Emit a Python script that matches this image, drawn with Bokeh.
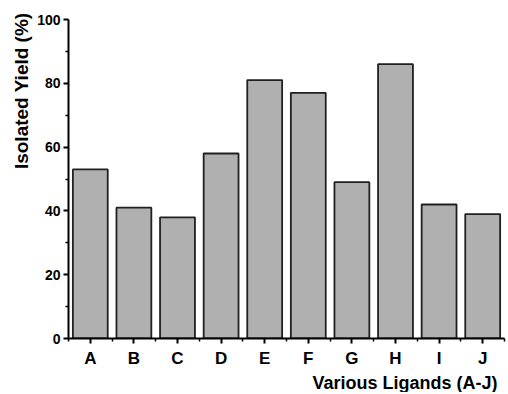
from bokeh.plotting import figure
from bokeh.models import FixedTicker, Range1d, Title
from bokeh.embed import file_html
from bokeh.resources import INLINE

categories = ["A", "B", "C", "D", "E", "F", "G", "H", "I", "J"]
yields = [53, 41, 38, 58, 81, 77, 49, 86, 42, 39]
y_ticks = [0, 20, 40, 60, 80, 100]
y_minor = [10, 30, 50, 70, 90]

FONT = "Liberation Sans"
xpos = list(range(len(categories)))

p = figure(width=506, height=392, output_backend="svg", toolbar_location=None,
           x_range=Range1d(-0.5, len(categories) - 0.5), y_range=Range1d(0, 100),
           min_border_left=68, min_border_right=2, min_border_top=19, min_border_bottom=52)
p.outline_line_color = None
p.grid.visible = False
p.background_fill_color = "white"

p.vbar(x=xpos, top=yields, width=0.8, fill_color="#b0b0b0",
       line_color="#202020", line_width=1.8)

p.xaxis.ticker = FixedTicker(ticks=xpos, minor_ticks=[i - 0.5 for i in range(len(categories) + 1)])
p.xaxis.major_label_overrides = {i: c for i, c in enumerate(categories)}
p.yaxis.ticker = FixedTicker(ticks=y_ticks, minor_ticks=y_minor)

for ax in (p.xaxis, p.yaxis):
    ax.axis_line_width = 2
    ax.axis_line_color = "black"
    ax.major_tick_line_width = 2
    ax.major_tick_in = 0
    ax.major_tick_out = 5
    ax.minor_tick_line_width = 1.5
    ax.minor_tick_in = 0
    ax.minor_tick_out = 3
    ax.major_label_text_font = FONT
    ax.major_label_text_font_style = "bold"
    ax.major_label_text_color = "black"

p.xaxis.major_label_text_font_size = "17px"
p.xaxis.major_label_standoff = 5
p.yaxis.major_label_text_font_size = "14px"
p.yaxis.major_label_standoff = 3

p.add_layout(Title(text="Isolated Yield (%)", align="right", offset=-7, standoff=6,
                   text_font=FONT, text_font_style="bold", text_font_size="19px",
                   text_color="black"), "left")

p.add_layout(Title(text="Various Ligands (A-J)", align="right", offset=7, standoff=0,
                   text_font=FONT, text_font_style="bold", text_font_size="18px",
                   text_color="black"), "below")

open("out.html", "w").write(file_html(p, INLINE))
